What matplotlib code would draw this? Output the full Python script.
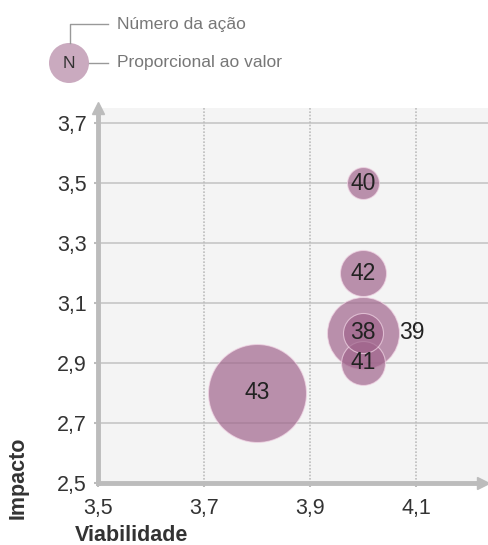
import numpy as np
import matplotlib
matplotlib.use("Agg")
import matplotlib.pyplot as plt
from matplotlib.patches import Circle

plt.rcParams['font.family'] = ['Liberation Sans', 'DejaVu Sans']

# dados das ações
acoes = ["38", "39", "40", "41", "42", "43"]
viabilidade = [4.0, 4.0, 4.0, 4.0, 4.0, 3.8]
impacto = [3.0, 3.0, 3.5, 2.9, 3.2, 2.8]
valor = [830, 2690, 530, 1000, 1100, 4980]

xticks = [3.5, 3.7, 3.9, 4.1]
yticks = [2.5, 2.7, 2.9, 3.1, 3.3, 3.5, 3.7]

fig = plt.figure(figsize=(4.89, 5.45), dpi=100)
ax = fig.add_axes([0.2004, 0.1138, 0.7996, 0.688])
ax.set_facecolor('#f4f4f4')

ax.set_xlim(3.5, 4.238)
ax.set_ylim(2.5, 3.75)

for y in yticks[1:]:
    ax.axhline(y, color='#c9c9c9', lw=1.3, zorder=1)
for x in xticks[1:]:
    ax.axvline(x, color='#bdbdbd', lw=1.2, ls=(0, (1, 1)), zorder=1)

# bolhas (maior primeiro)
ordem = np.argsort(valor)[::-1]
for i in ordem:
    ax.scatter(viabilidade[i], impacto[i], s=valor[i], color='#a0658c',
               alpha=0.7, edgecolors='#f2d6e6', linewidths=0.8, zorder=3)

for i, a in enumerate(acoes):
    if a == "39":
        ax.text(viabilidade[i] + 0.068, impacto[i], a, ha='left', va='center',
                fontsize=16.5, color='#222222', zorder=5)
    else:
        ax.text(viabilidade[i], impacto[i], a, ha='center', va='center',
                fontsize=16.5, color='#222222', zorder=5)

# eixos com setas
for s in ax.spines.values():
    s.set_visible(False)
ax.plot([0, 0], [0, 1.0], transform=ax.transAxes, color='#bcbcbc', lw=3.5,
        clip_on=False, zorder=4)
ax.plot([0, 0.985], [0, 0], transform=ax.transAxes, color='#bcbcbc', lw=3.5,
        clip_on=False, zorder=4)
ax.plot([0], [1.0], transform=ax.transAxes, marker='^', ms=8, color='#bcbcbc',
        clip_on=False, zorder=4)
ax.plot([0.985], [0], transform=ax.transAxes, marker='>', ms=8, color='#bcbcbc',
        clip_on=False, zorder=4)

ax.set_xticks(xticks)
ax.set_yticks(yticks)
ax.set_xticklabels([str(v).replace('.', ',') for v in xticks], fontsize=15.5)
ax.set_yticklabels([str(v).replace('.', ',') for v in yticks], fontsize=15.5)
ax.tick_params(axis='both', colors='#bcbcbc', length=3, width=1.5)
ax.tick_params(axis='x', pad=8)
ax.tick_params(axis='y', pad=5)
for lab in ax.get_xticklabels() + ax.get_yticklabels():
    lab.set_color('#333333')

ax.set_xlabel("Viabilidade", fontsize=15.5, fontweight='bold', color='#333333')
ax.xaxis.set_label_coords(0.085, -0.112)
ax.set_ylabel("Impacto", fontsize=15.5, fontweight='bold', color='#333333')
ax.yaxis.set_label_coords(-0.178, 0.013)

# legenda
leg = fig.add_axes([0, 0, 1, 1], zorder=-1)
leg.set_xlim(0, 489)
leg.set_ylim(545, 0)
leg.axis('off')
leg.add_patch(Circle((69, 63), 20, color='#a0658c', alpha=0.55, lw=0))
leg.text(69, 64, "N", ha='center', va='center', fontsize=12.5, color='#333333')
leg.plot([70, 70, 108], [43, 24, 24], color='#999999', lw=1)
leg.plot([89, 108], [63, 63], color='#999999', lw=1)
leg.text(117, 24, "Número da ação", ha='left', va='center', fontsize=12.5, color='#777777')
leg.text(117, 63, "Proporcional ao valor", ha='left', va='center', fontsize=12.5, color='#777777')

fig.savefig("out.png", dpi=100)
